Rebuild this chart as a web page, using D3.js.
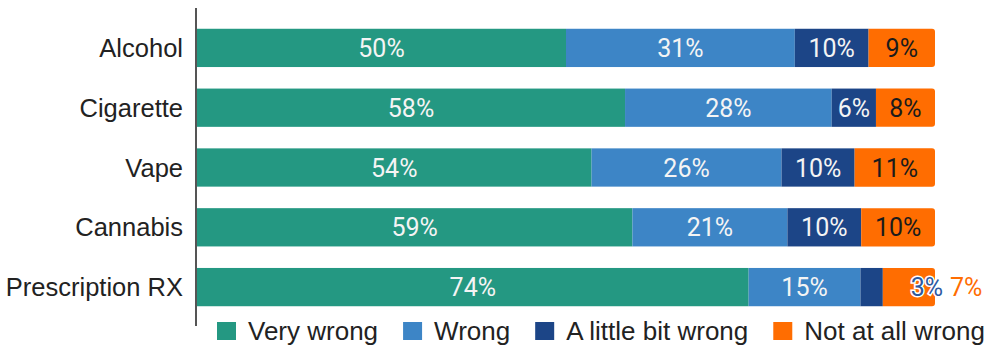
<!DOCTYPE html>
<html>
<head>
<meta charset="utf-8">
<script src="https://cdn.jsdelivr.net/npm/d3@7"></script>
<style>
  html, body { margin: 0; padding: 0; background: #fff; }
  svg { display: block; }
</style>
</head>
<body>
<svg id="chart" width="986" height="347"></svg>
<script>
// Substances asked about, top to bottom
const categories = ["Alcohol", "Cigarette", "Vape", "Cannabis", "Prescription RX"];

// Response levels and their shares (%) per substance
const seriesNames = ["Very wrong", "Wrong", "A little bit wrong", "Not at all wrong"];
const veryWrong    = [50, 58, 54, 59, 74];
const wrong        = [31, 28, 26, 21, 15];
const littleWrong  = [10, 6, 10, 10, 3];
const notAtAll     = [9, 8, 11, 10, 7];

const colors = ["#249882", "#3d85c6", "#1c4587", "#ff6d01"];
const labelColors = ["#f4f4f4", "#f4f4f4", "#f4f4f4", "#1b1b1b"];

const rows = categories.map((c, i) => ({
  category: c,
  "Very wrong": veryWrong[i],
  "Wrong": wrong[i],
  "A little bit wrong": littleWrong[i],
  "Not at all wrong": notAtAll[i]
}));

// Each bar is shown as a 100% stack
const stacked = d3.stack()
  .keys(seriesNames)
  .offset(d3.stackOffsetExpand)(rows);

const svg = d3.select("#chart");
const left = 197, right = 935;

const x = d3.scaleLinear().domain([0, 1]).range([left, right]);
const y = d3.scaleBand()
  .domain(categories)
  .range([18, 317])
  .paddingInner(0.36)
  .paddingOuter(0.18);

const labelFont = "Roboto, 'Noto Sans', sans-serif";
const textFont = "'Liberation Sans', Arial, sans-serif";
const valueArrays = [veryWrong, wrong, littleWrong, notAtAll];
const minInside = 40;

// Stacked segments
stacked.forEach((layer, si) => {
  const g = svg.append("g");
  layer.forEach((seg, i) => {
    const x0 = x(seg[0]), x1 = x(seg[1]);
    const yy = y(categories[i]), h = y.bandwidth();
    if (si === seriesNames.length - 1) {
      // rounded right end of the stack
      const r = 3;
      const p = d3.path();
      p.moveTo(x0, yy);
      p.lineTo(x1 - r, yy);
      p.arcTo(x1, yy, x1, yy + r, r);
      p.lineTo(x1, yy + h - r);
      p.arcTo(x1, yy + h, x1 - r, yy + h, r);
      p.lineTo(x0, yy + h);
      p.closePath();
      g.append("path").attr("d", p.toString()).attr("fill", colors[si]);
    } else {
      g.append("rect")
        .attr("x", x0).attr("y", yy)
        .attr("width", x1 - x0).attr("height", h)
        .attr("fill", colors[si]);
    }
  });
});

// Value labels; a row with a segment too narrow for its label
// gets its trailing labels placed past the end of the bar
categories.forEach((cat, i) => {
  const cy = y(cat) + y.bandwidth() / 2;
  let overflow = false;
  stacked.forEach((layer, si) => {
    const seg = layer[i];
    const x0 = x(seg[0]), x1 = x(seg[1]);
    const t = svg.append("text")
      .attr("y", cy)
      .attr("dy", "0.36em")
      .attr("font-family", labelFont)
      .attr("font-size", 25)
      .text(valueArrays[si][i] + "%");
    if (!overflow && x1 - x0 >= minInside) {
      t.attr("x", (x0 + x1) / 2)
        .attr("text-anchor", "middle")
        .attr("fill", labelColors[si]);
    } else if (!overflow) {
      overflow = true;
      t.attr("x", x(1) + 8)
        .attr("text-anchor", "end")
        .attr("fill", "#2d59a1")
        .attr("stroke", "#ffffff")
        .attr("stroke-width", 3)
        .attr("paint-order", "stroke");
    } else {
      t.attr("x", x(1) + 15)
        .attr("text-anchor", "start")
        .attr("fill", colors[si]);
    }
  });
});

// Category axis
svg.append("line")
  .attr("x1", 196).attr("x2", 196)
  .attr("y1", 8).attr("y2", 326)
  .attr("stroke", "#555").attr("stroke-width", 2);

svg.append("g").selectAll("text")
  .data(categories)
  .join("text")
  .attr("x", 183)
  .attr("y", d => y(d) + y.bandwidth() / 2)
  .attr("dy", "0.36em")
  .attr("text-anchor", "end")
  .attr("font-family", textFont)
  .attr("font-size", 25.5)
  .attr("fill", "#222")
  .text(d => d);

// Legend
const legend = svg.append("g");
let lx = 217;
const ly = 331;
seriesNames.forEach((name, i) => {
  legend.append("rect")
    .attr("x", lx).attr("y", ly - 9)
    .attr("width", 19).attr("height", 18)
    .attr("fill", colors[i]);
  const t = legend.append("text")
    .attr("x", lx + 31)
    .attr("y", ly)
    .attr("dy", "0.36em")
    .attr("font-family", textFont)
    .attr("font-size", 26)
    .attr("fill", "#222")
    .text(name);
  lx += 31 + t.node().getComputedTextLength() + 25;
});
</script>
</body>
</html>
